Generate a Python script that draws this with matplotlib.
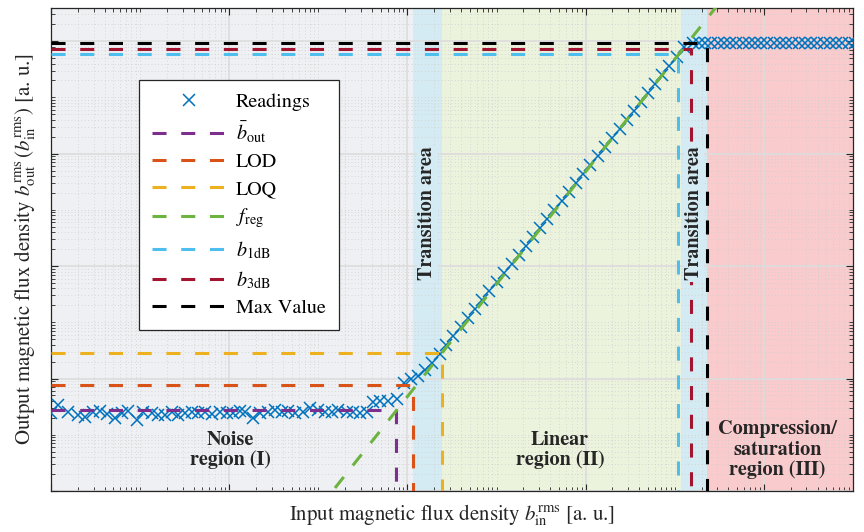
import matplotlib
matplotlib.use("Agg")
import matplotlib.pyplot as plt
import matplotlib.ticker as mticker
import numpy as np

plt.rcParams["font.family"] = ["STIXGeneral", "DejaVu Serif"]
plt.rcParams["mathtext.fontset"] = "stix"

# Readings as decade exponents (log10 of a.u.)
log_b_in = [
    0.00, 0.08, 0.19, 0.30, 0.38, 0.47, 0.55, 0.63, 0.72, 0.80,
    0.86, 0.97, 1.03, 1.13, 1.20, 1.28, 1.36, 1.43, 1.50, 1.58,
    1.65, 1.73, 1.81, 1.90, 1.98, 2.04, 2.12, 2.18, 2.27, 2.35,
    2.44, 2.51, 2.59, 2.66, 2.74, 2.83, 2.91, 3.00, 3.08, 3.15,
    3.22, 3.32, 3.39, 3.47, 3.55, 3.61, 3.69, 3.78, 3.88,
    3.96, 4.04, 4.12, 4.20, 4.28, 4.36, 4.43, 4.51, 4.60, 4.68,
    4.76, 4.84, 4.92, 5.00, 5.08, 5.17, 5.25, 5.33, 5.41, 5.49,
    5.57, 5.65, 5.73, 5.81, 5.89, 5.97, 6.05, 6.14, 6.22, 6.30,
    6.38, 6.46, 6.54, 6.62, 6.70, 6.78, 6.86, 6.94, 7.02, 7.10,
    7.20, 7.27, 7.34, 7.41, 7.48, 7.55, 7.62, 7.69, 7.76, 7.83,
    7.90, 7.97, 8.04, 8.11, 8.18, 8.25, 8.32, 8.39, 8.46, 8.53,
    8.60, 8.67, 8.74, 8.81, 8.88, 8.95, 9.02,
]
log_b_out = [
    1.39, 1.53, 1.40, 1.35, 1.32, 1.40, 1.42, 1.37, 1.30, 1.39,
    1.42, 1.26, 1.40, 1.38, 1.35, 1.36, 1.40, 1.35, 1.39, 1.41,
    1.38, 1.40, 1.37, 1.41, 1.39, 1.38, 1.42, 1.40, 1.30, 1.39,
    1.41, 1.44, 1.40, 1.42, 1.38, 1.41, 1.48, 1.44, 1.40, 1.41,
    1.44, 1.40, 1.41, 1.38, 1.41, 1.58, 1.60, 1.60, 1.63,
    1.92, 1.99, 2.04, 2.15, 2.28, 2.44, 2.60, 2.76, 2.92, 3.08,
    3.23, 3.39, 3.55, 3.71, 3.87, 4.03, 4.19, 4.35, 4.51, 4.67,
    4.83, 4.99, 5.15, 5.31, 5.47, 5.63, 5.79, 5.95, 6.11, 6.27,
    6.43, 6.59, 6.75, 6.91, 7.07, 7.23, 7.39, 7.55, 7.71, 7.90,
    7.96, 7.97, 7.96, 7.97, 7.96, 7.96, 7.97, 7.96, 7.97, 7.96,
    7.96, 7.97, 7.96, 7.97, 7.96, 7.96, 7.97, 7.96, 7.97, 7.96,
    7.96, 7.97, 7.96, 7.97, 7.96, 7.96, 7.97,
]

# Characteristic points: (b_in exponent, b_out exponent)
thresholds = {
    "mean": (3.87, 1.44),
    "lod": (4.06, 1.88),
    "loq": (4.39, 2.45),
    "b1db": (7.04, 7.77),
    "b3db": (7.18, 7.86),
    "max": (7.36, 7.96),
}

# Regression in the linear region: log b_out = slope * log b_in + offset
reg_slope = 2.0
reg_offset = -6.32

# Region borders along b_in (exponents)
noise_col, trans_col, lin_col, sat_col = "#eff0f3", "#d4ebf3", "#ebf3dd", "#f9cbcd"
regions = [
    (0.0, 4.06, noise_col),
    (4.06, 4.39, trans_col),
    (4.39, 7.07, lin_col),
    (7.07, 7.36, trans_col),
    (7.36, 9.0, sat_col),
]

x_lim = (0.0, 9.0)
y_lim = (0.0, 8.59)

fig = plt.figure(figsize=(8.64, 5.32), dpi=100)
ax = fig.add_axes([51 / 864, 41 / 532, 802 / 864, 483 / 532])
ax.set_xscale("log")
ax.set_yscale("log")

for x0, x1, col in regions:
    ax.axvspan(10 ** x0, 10 ** x1, color=col, lw=0, zorder=0.5)

b_in = 10.0 ** np.array(log_b_in)
b_out = 10.0 ** np.array(log_b_out)
ax.plot(b_in, b_out, ls="none", marker="x", ms=8, mew=1.1, color="#0072BD",
        label="Readings", zorder=3)

dash = dict(lw=2.2, dashes=(4.6, 4.8), zorder=4)
xmin, ymin = 10 ** x_lim[0], 10 ** y_lim[0]


def corner(key, color, label):
    xe, ye = thresholds[key]
    x, y = 10 ** xe, 10 ** ye
    ax.plot([xmin, x, x], [y, y, ymin], color=color, label=label, **dash)


corner("mean", "#7E2F8E", r"$\bar{b}_{\mathrm{out}}$")
corner("lod", "#D95319", "LOD")
corner("loq", "#EDB120", "LOQ")

reg_x = np.array([10 ** x_lim[0], 10 ** x_lim[1]])
reg_y = 10 ** reg_offset * reg_x ** reg_slope
ax.plot(reg_x, reg_y, color="#6cb33f", label=r"$f_{\mathrm{reg}}$", **dash)

corner("b1db", "#4DBEEE", r"$b_{\mathrm{1dB}}$")
corner("b3db", "#A2142F", r"$b_{\mathrm{3dB}}$")
corner("max", "black", "Max Value")

ax.set_xlim(10 ** x_lim[0], 10 ** x_lim[1])
ax.set_ylim(10 ** y_lim[0], 10 ** y_lim[1])

# majors every second decade, minors at every 1..9 x 10^k
for axis, top in ((ax.xaxis, 9), (ax.yaxis, 8)):
    axis.set_major_locator(mticker.FixedLocator([10.0 ** k for k in range(0, top + 1, 2)]))
    axis.set_minor_locator(mticker.LogLocator(base=10, subs=np.arange(1, 10), numticks=50))
    axis.set_major_formatter(mticker.NullFormatter())
    axis.set_minor_formatter(mticker.NullFormatter())

ax.tick_params(which="both", direction="in", top=True, right=True, color="#262626")
ax.tick_params(which="major", length=5, width=0.8)
ax.tick_params(which="minor", length=3, width=0.6)
ax.grid(which="major", color="#dcdcdc", lw=1.2)
ax.grid(which="minor", color="#cfcfcf", lw=0.6, ls=(0, (1, 3)))
for s in ax.spines.values():
    s.set_color("#262626")
    s.set_linewidth(0.9)

txt = dict(ha="center", va="center", fontweight="bold", fontsize=14.5,
           color="#262626", zorder=5)
box = dict(facecolor=trans_col, edgecolor="none", pad=1)
ax.text(10 ** 4.225, 10 ** 4.94, "Transition area", rotation=90, bbox=box, **txt)
ax.text(10 ** 7.215, 10 ** 4.94, "Transition area", rotation=90, bbox=box, **txt)
ax.text(10 ** 2.01, 10 ** 0.73, "Noise\nregion (I)", linespacing=1.15, **txt)
ax.text(10 ** 5.71, 10 ** 0.73, "Linear\nregion (II)", linespacing=1.15, **txt)
ax.text(10 ** 8.15, 10 ** 0.73, "Compression/\nsaturation\nregion (III)",
        linespacing=1.15, **txt)

ax.set_xlabel(r"Input magnetic flux density $b_{\mathrm{in}}^{\mathrm{rms}}$ [a. u.]",
              fontsize=15, color="#262626", labelpad=5)
ax.set_ylabel(r"Output magnetic flux density $b_{\mathrm{out}}^{\mathrm{rms}}\,(b_{\mathrm{in}}^{\mathrm{rms}})$ [a. u.]",
              fontsize=15, color="#262626", labelpad=6)

leg = ax.legend(loc="upper left", bbox_to_anchor=(88 / 802, 411 / 483),
                borderaxespad=0, fontsize=14.5, handlelength=3.7, handletextpad=0.45,
                labelspacing=0.42, fancybox=False, framealpha=1,
                edgecolor="#262626", borderpad=0.65)
leg.get_frame().set_linewidth(0.9)
leg.set_zorder(10)

fig.savefig("out.png", dpi=100)
